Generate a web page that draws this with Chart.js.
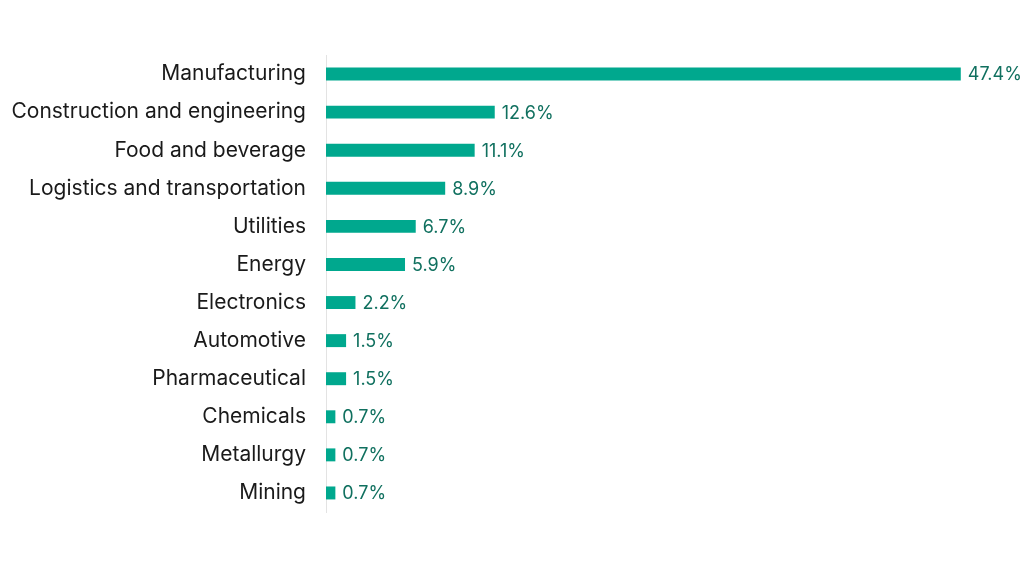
<!DOCTYPE html>
<html>
<head>
<meta charset="utf-8">
<script src="https://cdn.jsdelivr.net/npm/chart.js@4"></script>
<style>
  html, body { margin: 0; padding: 0; background: #fff; }
  #wrap { width: 1024px; height: 576px; }
</style>
</head>
<body>
<div id="wrap"><canvas id="chart"></canvas></div>
<script>
const categories = [
  "Manufacturing", "Construction and engineering", "Food and beverage",
  "Logistics and transportation", "Utilities", "Energy", "Electronics",
  "Automotive", "Pharmaceutical", "Chemicals", "Metallurgy", "Mining"
];
const shares = [47.4, 12.6, 11.1, 8.9, 6.7, 5.9, 2.2, 1.5, 1.5, 0.7, 0.7, 0.7];

const valueLabels = {
  id: "valueLabels",
  afterDatasetsDraw(chart) {
    const ctx = chart.ctx;
    const meta = chart.getDatasetMeta(0);
    ctx.save();
    ctx.font = "18px Inter";
    ctx.fillStyle = "#10705f";
    ctx.textAlign = "left";
    ctx.textBaseline = "middle";
    meta.data.forEach((bar, i) => {
      ctx.fillText(shares[i].toFixed(1) + "%", bar.x + 7, bar.y + 1);
    });
    ctx.restore();
  }
};

new Chart(document.getElementById("chart"), {
  type: "bar",
  data: {
    labels: categories,
    datasets: [{
      data: shares,
      backgroundColor: "#00a88e",
      barPercentage: 0.34,
      categoryPercentage: 1
    }]
  },
  options: {
    indexAxis: "y",
    responsive: true,
    maintainAspectRatio: false,
    animation: false,
    layout: { padding: { top: 55, bottom: 64, left: 0, right: 15 } },
    plugins: { legend: { display: false }, tooltip: { enabled: false } },
    scales: {
      x: { display: false, min: 0, max: 51 },
      y: {
        afterFit(scale) { scale.width = 326; },
        grid: { display: false, drawTicks: false },
        border: { display: true, color: "#e3e3e3", width: 1 },
        ticks: {
          padding: 20,
          color: "#1a1a1a",
          font: { family: "Inter", size: 21 }
        }
      }
    }
  },
  plugins: [valueLabels]
});
</script>
</body>
</html>
